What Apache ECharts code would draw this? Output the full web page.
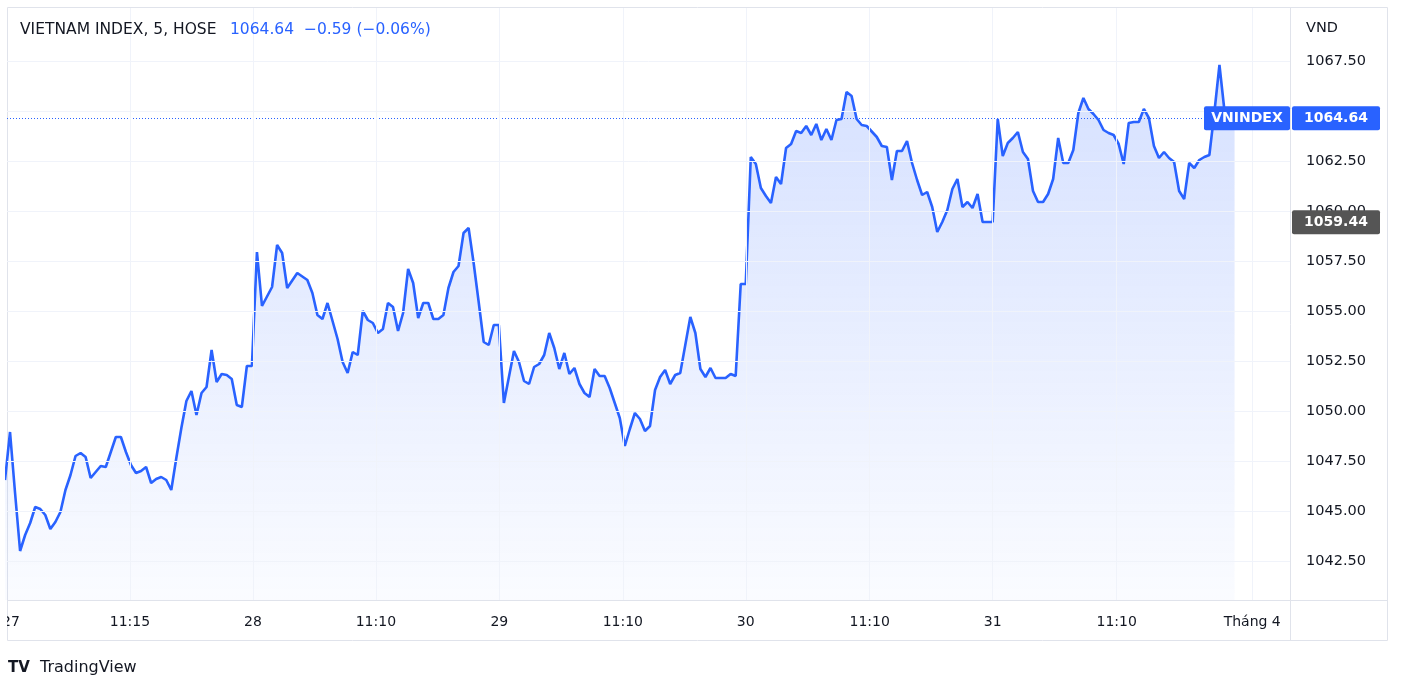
<!DOCTYPE html>
<html><head><meta charset="utf-8">
<script src="https://cdn.jsdelivr.net/npm/echarts@6/dist/echarts.min.js"></script>
<style>html,body{margin:0;padding:0;background:#fff}#c{width:1402px;height:695px}</style>
</head><body><div id="c"></div>
<script>
const barIndex=[-1,0,1,2,3,4,5,6,7,8,9,10,11,12,13,14,15,16,17,18,19,20,21,22,23,24,25,26,27,28,29,30,31,32,33,34,35,36,37,38,39,40,41,42,43,44,45,46,47,48,
49,50,52,53,54,55,57,59,60,61,62,63,65,66,67,68,69,70,71,72,73,74,75,76,77,78,79,80,81,82,83,84,85,86,87,88,89,90,91,92,93,94,95,96,97,98,
100,101,102,103,104,105,106,107,108,109,110,111,112,113,114,115,116,117,118,119,120,121,122,123,124,125,126,127,128,129,130,131,132,133,134,135,136,137,138,139,140,141,142,143,144,145,146,
147,148,149,150,151,152,153,154,155,156,157,158,159,160,161,162,163,164,165,166,167,168,169,170,172,173,174,175,176,177,178,179,180,181,182,183,184,185,186,187,188,189,190,191,192,193,195,
196,197,198,199,200,201,202,203,204,205,206,207,208,209,210,211,212,213,214,215,216,217,218,219,220,221,222,223,224,225,226,227,228,229,230,231,232,233,234,235,236,237,238,239,240,241,243];
const prices=[1046.55,1048.95,1045.9,1043.0,1043.8,1044.4,1045.2,1045.1,1044.8,1044.1,1044.45,1044.95,1046.05,1046.8,1047.75,1047.9,1047.7,1046.65,1046.95,1047.25,1047.2,1047.95,1048.7,1048.7,1047.95,1047.3,1046.9,1047.0,1047.2,1046.4,1046.6,1046.7,1046.55,1046.05,1047.65,1049.15,1050.5,1051.0,1049.8,1050.9,1051.2,1053.05,1051.45,1051.85,1051.8,1051.6,1050.3,1050.2,1052.25,1052.25,
1057.95,1055.25,1056.2,1058.3,1057.9,1056.15,1056.9,1056.55,1055.9,1054.8,1054.6,1055.4,1053.6,1052.45,1051.9,1052.95,1052.8,1055.0,1054.55,1054.4,1053.9,1054.1,1055.4,1055.2,1054.0,1054.9,1057.1,1056.4,1054.65,1055.4,1055.4,1054.6,1054.6,1054.8,1056.15,1056.95,1057.25,1058.9,1059.15,1057.4,1055.45,1053.45,1053.3,1054.3,1054.3,1050.4,
1053.0,1052.45,1051.5,1051.35,1052.2,1052.35,1052.8,1053.9,1053.15,1052.1,1052.9,1051.85,1052.15,1051.35,1050.9,1050.7,1052.1,1051.75,1051.75,1051.15,1050.4,1049.65,1048.25,1049.1,1049.9,1049.6,1049.0,1049.25,1051.05,1051.7,1052.05,1051.35,1051.8,1051.9,1053.3,1054.7,1053.9,1052.1,1051.7,1052.15,1051.65,1051.65,1051.65,1051.85,1051.75,1056.35,1056.35,
1062.7,1062.35,1061.15,1060.75,1060.4,1061.7,1061.35,1063.15,1063.35,1064.0,1063.9,1064.25,1063.8,1064.35,1063.55,1064.1,1063.55,1064.55,1064.6,1065.95,1065.75,1064.6,1064.3,1064.25,1063.7,1063.25,1063.2,1061.55,1063.0,1063.0,1063.5,1062.4,1061.55,1060.8,1060.95,1060.2,1058.95,1059.45,1060.05,1061.1,1061.6,1060.2,1060.45,1060.15,1060.85,1059.45,1059.45,
1064.6,1062.75,1063.4,1063.65,1063.95,1062.95,1062.6,1061.0,1060.45,1060.45,1060.85,1061.6,1063.65,1062.4,1062.4,1063.05,1064.9,1065.65,1065.1,1064.85,1064.55,1064.05,1063.9,1063.8,1063.35,1062.35,1064.4,1064.45,1064.45,1065.1,1064.65,1063.25,1062.65,1062.95,1062.65,1062.45,1061.0,1060.6,1062.4,1062.15,1062.55,1062.7,1062.8,1064.95,1067.3,1065.0,1064.64];
const xTickPos=[-0.6,23.8,48.2,72.6,97.1,121.6,146,170.6,195,219.6,246.5];
const xTickLabels=['27','11:15','28','11:10','29','11:10','30','11:10','31','11:10','Tháng 4'];
const yTicks=[1042.5,1045,1047.5,1050,1052.5,1055,1057.5,1060,1062.5,1065,1067.5];
const yTickLabels=['1042.50','1045.00','1047.50','1050.00','1052.50','1055.00','1057.50','1060.00','1062.50','','1067.50'];
const lastPrice=1064.64, prevClose=1059.44;
const title='VIETNAM INDEX, 5, HOSE', quote='1064.64  −0.59 (−0.06%)';

const blue='#2962ff', font='"DejaVu Sans", sans-serif';
const chart=echarts.init(document.getElementById('c'));
const data=barIndex.map((x,i)=>[x,prices[i]]);
chart.setOption({
  animation:false,
  grid:{left:7,right:112,top:8,bottom:95},
  xAxis:{type:'value',min:-0.6,max:254,axisLine:{show:false},axisTick:{show:false},splitLine:{show:false},axisLabel:{show:false}},
  yAxis:{type:'value',position:'right',min:1040.55,max:1070.15,axisLine:{show:false},axisTick:{show:false},splitLine:{show:false},axisLabel:{show:false}},
  series:[
    {type:'line',data:data,showSymbol:false,clip:true,lineStyle:{color:blue,width:2.6},
     areaStyle:{color:new echarts.graphic.LinearGradient(0,0,0,1,[{offset:0,color:'rgba(41,98,255,0.28)'},{offset:1,color:'rgba(41,98,255,0.03)'}]),origin:'start'},
     markLine:{symbol:'none',silent:true,label:{show:false},lineStyle:{color:blue,type:[1,2],width:1},data:[{yAxis:lastPrice}]},z:3},
    {type:'line',data:[],markLine:{symbol:'none',silent:true,label:{show:false},lineStyle:{color:'#f0f3fa',type:'solid',width:1},
      data:xTickPos.slice(1).map(v=>({xAxis:v})).concat(yTicks.map(v=>({yAxis:v})))},z:1}
  ]
});
const g=[];
const X=v=>chart.convertToPixel({gridIndex:0},[v,1050])[0];
const Y=v=>chart.convertToPixel({gridIndex:0},[0,v])[1];
g.push({type:'rect',shape:{x:7.5,y:7.5,width:1380,height:633},style:{fill:'none',stroke:'#e0e3eb',lineWidth:1},z:0});
g.push({type:'line',shape:{x1:1290.5,y1:8,x2:1290.5,y2:641},style:{stroke:'#e0e3eb',lineWidth:1}});
g.push({type:'line',shape:{x1:8,y1:600.5,x2:1388,y2:600.5},style:{stroke:'#e0e3eb',lineWidth:1}});
xTickPos.forEach((v,i)=>{g.push({type:'text',x:i===0?X(v)+4:X(v),y:622,style:{text:xTickLabels[i],font:'14px '+font,fill:'#131722',align:'center',verticalAlign:'middle'},z:5});});
g.push({type:'rect',shape:{x:0,y:601,width:7,height:40},style:{fill:'#fff'},z:6});
yTicks.forEach((v,i)=>{g.push({type:'text',x:1306,y:Y(v),style:{text:yTickLabels[i],font:'14.5px '+font,fill:'#131722',verticalAlign:'middle'},z:5});});
g.push({type:'text',x:1306,y:28,style:{text:'VND',font:'14.5px '+font,fill:'#131722',verticalAlign:'middle'}});
const yl=Y(lastPrice), yp=Y(prevClose);
g.push({type:'rect',shape:{x:1292,y:yl-12,width:88,height:24,r:2},style:{fill:blue},z:7});
g.push({type:'text',x:1336,y:yl,style:{text:'1064.64',font:'bold 14px '+font,fill:'#fff',align:'center',verticalAlign:'middle'},z:8});
g.push({type:'rect',shape:{x:1204,y:yl-12,width:86,height:24,r:2},style:{fill:blue},z:7});
g.push({type:'text',x:1247,y:yl,style:{text:'VNINDEX',font:'bold 14px '+font,fill:'#fff',align:'center',verticalAlign:'middle'},z:8});
g.push({type:'rect',shape:{x:1292,y:yp-12,width:88,height:24,r:2},style:{fill:'#555'},z:7});
g.push({type:'text',x:1336,y:yp,style:{text:'1059.44',font:'bold 14px '+font,fill:'#fff',align:'center',verticalAlign:'middle'},z:8});
g.push({type:'text',x:20,y:30,style:{text:title,font:'15.5px '+font,fill:'#131722',verticalAlign:'middle'}});
g.push({type:'text',x:230,y:30,style:{text:quote,font:'15.5px '+font,fill:blue,verticalAlign:'middle'}});
g.push({type:'text',x:8,y:668,style:{text:'TV',font:'bold 15px '+font,fill:'#131722',verticalAlign:'middle'}});
g.push({type:'text',x:40,y:668,style:{text:'TradingView',font:'16px '+font,fill:'#131722',verticalAlign:'middle'}});
chart.setOption({graphic:g.map(o=>Object.assign({z:5},o))});
</script></body></html>
